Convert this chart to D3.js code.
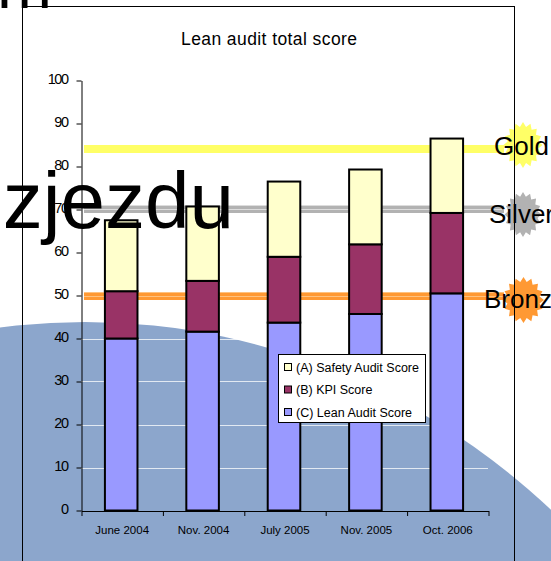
<!DOCTYPE html>
<html>
    <head>
        <meta charset="utf-8">
        <title>Lean audit total score</title>
        <script src="https://d3js.org/d3.v7.min.js"></script>
        <style>
            body { margin: 0; background: #fff; overflow: hidden; }
            text { font-family: "Liberation Sans", Arial, sans-serif; fill: #000; }
            .tick text { font-family: "Liberation Sans", Arial, sans-serif; }
        </style>
    </head>
    <body>
        <script>
            const categories = ["June 2004", "Nov. 2004", "July 2005", "Nov. 2005", "Oct. 2006"];
            const leanScores = [40, 41.6, 43.7, 45.7, 50.5];
            const kpiScores = [11, 11.8, 15.3, 16.2, 18.7];
            const safetyScores = [16.5, 17.3, 17.5, 17.4, 17.3];
            const seriesNames = ["(C) Lean Audit Score", "(B) KPI Score", "(A) Safety Audit Score"];
            const seriesColors = ["#9999ff", "#993366", "#ffffcc"];
            const yTicks = [0, 10, 20, 30, 40, 50, 60, 70, 80, 90, 100];
            const levelNames = ["Gold", "Silver", "Bronze"];
            const levelValues = [84, 70.2, 50];
            const levelColors = ["#ffff66", "#b2b2b2", "#ff9933"];
            const levelLights = ["#ffff66", "#dddddd", "#ffc27f"];

            const width = 551;
            const height = 561;

            const svg = d3.select("body").append("svg")
                .attr("width", width)
                .attr("height", height)
                .style("display", "block")
            ;

            const y = d3.scaleLinear().domain([0, 100]).range([510.5, 80.5]);
            const x = d3.scaleBand().domain(categories).range([80.5, 487.5])
                .paddingInner(0.6).paddingOuter(0.3)
            ;
            const xEdges = d3.scaleLinear().domain([0, categories.length]).range([81, 488]);

            // slide background
            svg.append("ellipse")
                .attr("cx", 85).attr("cy", 1062)
                .attr("rx", 700).attr("ry", 740)
                .attr("fill", "#8ca6cc")
            ;

            // chart frame
            svg.append("rect")
                .attr("x", 22.5).attr("y", 6.5)
                .attr("width", 492).attr("height", 600)
                .attr("fill", "none").attr("stroke", "#000")
            ;

            // grid, only shows on the blue
            svg.append("g").selectAll("line")
                .data(yTicks.slice(1)).join("line")
                .attr("x1", 81).attr("x2", 488)
                .attr("y1", d => Math.round(y(d)) + 0.5).attr("y2", d => Math.round(y(d)) + 0.5)
                .attr("stroke", "#fff")
                .attr("stroke-opacity", 0.75)
            ;

            // level lines, behind the bars
            const levels = svg.append("g");
            levelValues.forEach((v, i) => {
                const ly = Math.round(y(v));
                levels.append("rect").attr("x", 84).attr("y", ly - 4)
                    .attr("width", 420).attr("height", 8).attr("fill", levelColors[i]);
                if (i > 0) {
                    levels.append("rect").attr("x", 84).attr("y", ly)
                        .attr("width", 420).attr("height", 1).attr("fill", levelLights[i]);
                    levels.append("rect").attr("x", 84).attr("y", ly - 4)
                        .attr("width", 420).attr("height", 1).attr("fill", levelLights[i]);
                }
            });

            // stacked bars
            const rows = categories.map((c, i) => ({ c: c, lean: leanScores[i], kpi: kpiScores[i], safety: safetyScores[i] }));
            const stack = d3.stack().keys(["lean", "kpi", "safety"])(rows);
            svg.append("g").selectAll("g")
                .data(stack).join("g")
                .attr("fill", (d, i) => seriesColors[i])
                .selectAll("rect")
                .data(d => d).join("rect")
                .attr("x", d => x(d.data.c))
                .attr("y", d => y(d[1]))
                .attr("width", x.bandwidth())
                .attr("height", d => y(d[0]) - y(d[1]))
                .attr("stroke", "#000")
                .attr("stroke-width", 2)
            ;

            // axes
            const yAxis = svg.append("g")
                .attr("transform", "translate(81.5,0)")
                .call(d3.axisLeft(y).tickValues(yTicks).tickSize(5).tickSizeOuter(0).tickPadding(9))
            ;
            yAxis.selectAll("text")
                .style("font-size", "14.5px")
                .style("letter-spacing", "-1.5px")
                .attr("dy", "0.2em")
                .attr("fill", "#000")
            ;
            svg.append("g")
                .attr("transform", "translate(0.5,511)")
                .call(d3.axisBottom(xEdges).ticks(categories.length).tickFormat("").tickSize(5).tickSizeOuter(0))
            ;
            svg.selectAll(".domain, .tick line").attr("stroke", "#000");

            svg.append("g").selectAll("text")
                .data(categories).join("text")
                .attr("x", d => x(d) + x.bandwidth() / 2 + 1)
                .attr("y", 534)
                .attr("text-anchor", "middle")
                .style("font-size", "11.5px")
                .text(d => d)
            ;

            // title
            svg.append("text")
                .attr("x", 269).attr("y", 44.5)
                .attr("text-anchor", "middle")
                .style("font-size", "17.5px")
                .attr("textLength", 176)
                .text("Lean audit total score")
            ;

            // legend
            const legend = svg.append("g");
            legend.append("rect")
                .attr("x", 278.5).attr("y", 354.5)
                .attr("width", 147).attr("height", 68)
                .attr("fill", "#fff").attr("stroke", "#000")
            ;
            const legendY = d3.scalePoint().domain(seriesNames.slice().reverse()).range([367, 412]);
            const legendRows = legend.selectAll("g")
                .data(seriesNames).join("g")
                .attr("transform", d => `translate(0,${legendY(d)})`)
            ;
            legendRows.append("rect")
                .attr("x", 284.5).attr("y", -3.5)
                .attr("width", 7).attr("height", 7)
                .attr("fill", (d, i) => seriesColors[i])
                .attr("stroke", "#000")
            ;
            legendRows.append("text")
                .attr("x", 296).attr("y", 4.5)
                .style("font-size", "12.5px")
                .text(d => d)
            ;

            // level badges
            const starPoints = d3.range(32).map(i => [i * Math.PI / 16, i % 2 ? 0.8 : 1]);
            const star = d3.lineRadial().curve(d3.curveLinearClosed);
            const badgeX = [523, 523, 523.5];
            const badgeY = [145, 214.5, 300];
            const badgeRx = [19.5, 18.5, 20.5];
            const badgeRy = [23, 22.5, 23];
            svg.append("g").selectAll("path")
                .data(levelNames).join("path")
                .attr("d", star(starPoints))
                .attr("transform", (d, i) => `translate(${badgeX[i]},${badgeY[i]}) scale(${badgeRx[i]},${badgeRy[i]})`)
                .attr("fill", (d, i) => levelColors[i])
            ;

            // frame right edge shows over badges
            svg.append("line")
                .attr("x1", 514.5).attr("x2", 514.5)
                .attr("y1", 6).attr("y2", height)
                .attr("stroke", "#000")
            ;

            const labelX = [494, 489, 484];
            const labelY = [155, 223, 308];
            svg.append("g").selectAll("text")
                .data(levelNames).join("text")
                .attr("x", (d, i) => labelX[i])
                .attr("y", (d, i) => labelY[i])
                .style("font-size", "26px")
                .text(d => d)
            ;

            // large slide text cut off by the window
            svg.append("text")
                .attr("x", 234).attr("y", 228)
                .attr("text-anchor", "end")
                .style("font-size", "80px")
                .text("ozjezdu")
            ;
            svg.append("text")
                .attr("x", -3).attr("y", 8)
                .style("font-size", "66px")
                .text("m")
            ;
        </script>
    </body>
</html>
